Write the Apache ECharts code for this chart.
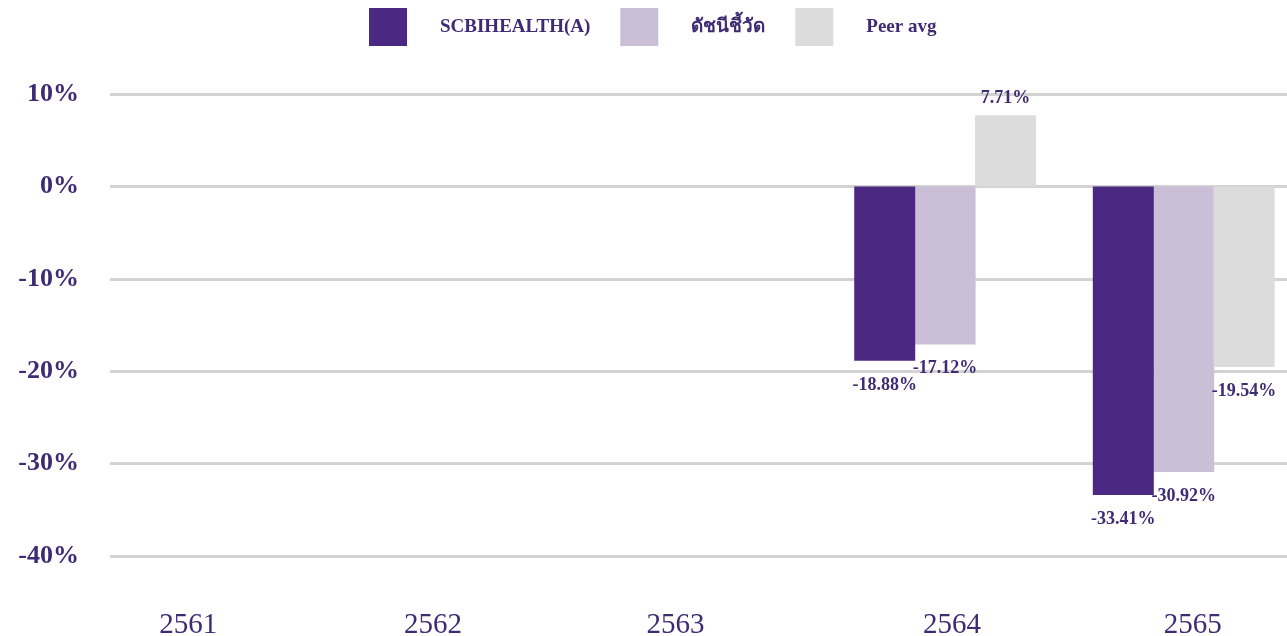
<!DOCTYPE html>
<html>
<head>
<meta charset="utf-8">
<script src="https://cdn.jsdelivr.net/npm/echarts@6/dist/echarts.min.js"></script>
<style>
html,body{margin:0;padding:0;background:#fff;}
#chart{width:1287px;height:636px;}
</style>
</head>
<body>
<div id="chart"></div>
<script>
const categories = ['2561', '2562', '2563', '2564', '2565'];
const seriesNames = ['SCBIHEALTH(A)', 'ดัชนีชี้วัด', 'Peer avg'];
const fundValues = [null, null, null, -18.88, -33.41];
const benchmarkValues = [null, null, null, -17.12, -30.92];
const peerValues = [null, null, null, 7.71, -19.54];
const yTicks = { min: -40, max: 10, interval: 10 };

const colors = ['#4b2882', '#cbbfd8', '#dcdcdc'];
const textColor = '#3f2b74';
const serif = '"Liberation Serif", "DejaVu Serif", serif';
// horizontal nudges (px) of the category labels, as drawn in the reference
const labelShift = [-41, -35, -31, 7, 9];

const chart = echarts.init(document.getElementById('chart'));

function makeSeries(name, data, color, z) {
  return {
    name: name,
    type: 'bar',
    data: data.map(v => (v != null && v > 0) ? { value: v, label: { distance: 8 } } : v),
    barWidth: 61,
    barGap: '-1%',
    z: z,
    itemStyle: { color: color },
    label: {
      show: true,
      position: 'outside',
      distance: 15,
      formatter: p => p.value == null ? '' : p.value.toFixed(2) + '%',
      color: textColor,
      fontFamily: serif,
      fontWeight: 'bold',
      fontSize: 18
    }
  };
}

const rich = {};
labelShift.forEach((d, i) => {
  rich['s' + i] = {
    color: textColor,
    fontFamily: serif,
    fontSize: 29,
    padding: d < 0 ? [0, -2 * d, 0, 0] : [0, 0, 0, 2 * d]
  };
});

chart.setOption({
  animation: false,
  legend: {
    top: 3,
    left: 364,
    itemWidth: 38,
    itemHeight: 38,
    itemGap: 30,
    icon: 'rect',
    textStyle: {
      color: textColor,
      fontFamily: serif,
      fontWeight: 'bold',
      fontSize: 19,
      padding: [16, 0, 0, 28]
    }
  },
  grid: { left: 110, top: 94, right: -16, bottom: 80, containLabel: false, outerBoundsMode: 'none' },
  xAxis: {
    type: 'category',
    data: categories,
    axisLine: { show: false },
    axisTick: { show: false },
    axisLabel: {
      margin: 55,
      color: textColor,
      fontFamily: serif,
      fontSize: 29,
      formatter: (v, i) => '{s' + i + '|' + v + '}',
      rich: rich
    }
  },
  yAxis: {
    type: 'value',
    min: yTicks.min,
    max: yTicks.max,
    interval: yTicks.interval,
    axisLine: { show: false },
    axisTick: { show: false },
    axisLabel: {
      margin: 31,
      formatter: v => v + '%',
      color: textColor,
      fontFamily: serif,
      fontWeight: 'bold',
      fontSize: 26
    },
    splitLine: { lineStyle: { color: '#d3d3d3', width: 3 } }
  },
  series: [
    makeSeries(seriesNames[0], fundValues, colors[0], 3),
    makeSeries(seriesNames[1], benchmarkValues, colors[1], 2),
    makeSeries(seriesNames[2], peerValues, colors[2], 2)
  ]
});
</script>
</body>
</html>
